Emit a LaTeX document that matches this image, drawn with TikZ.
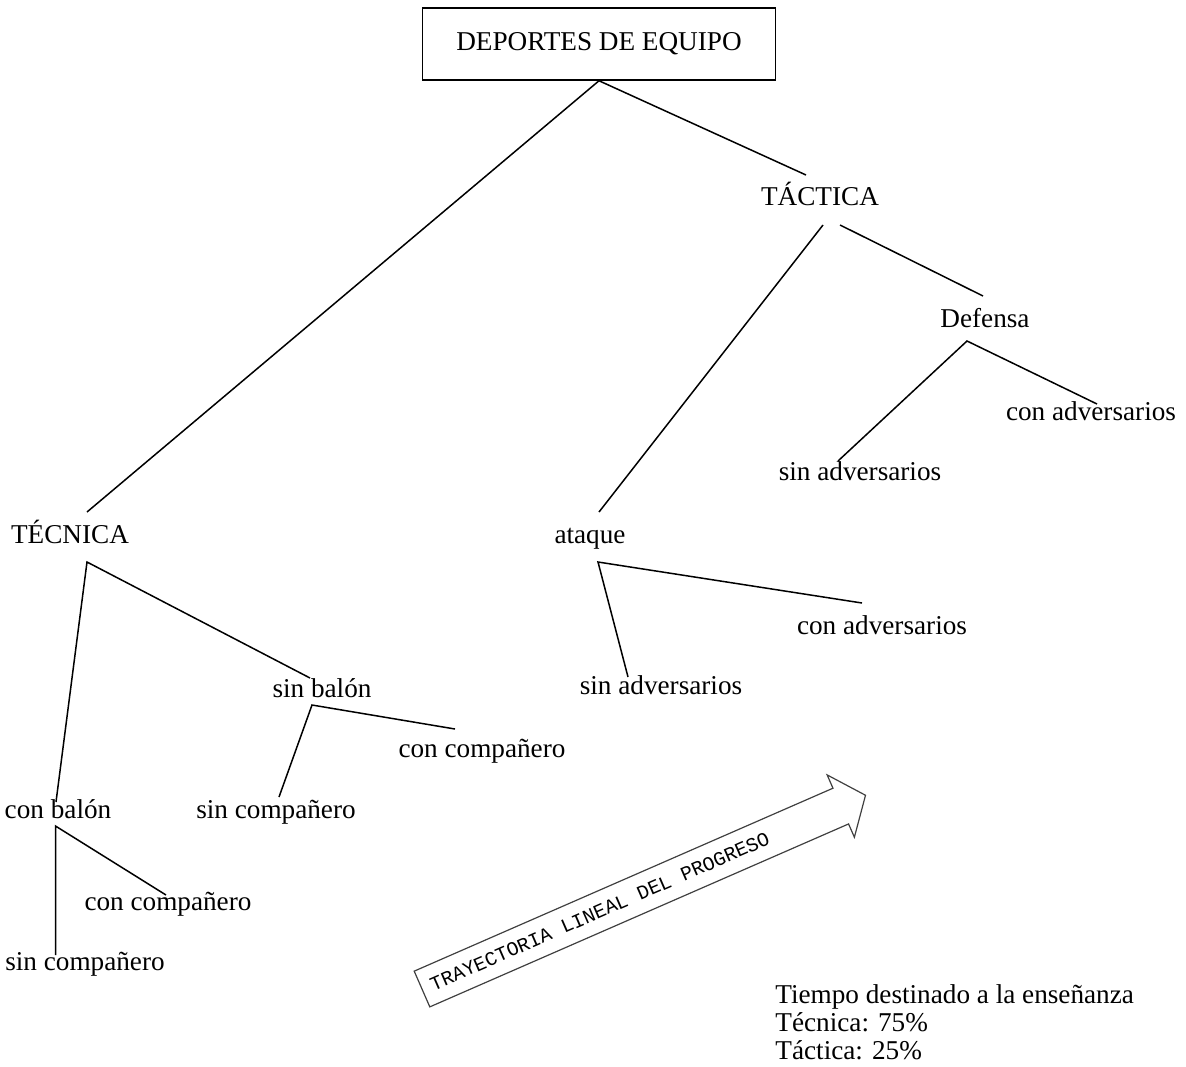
\documentclass[tikz,border=0pt]{standalone}
\usepackage{fontspec}
\setmainfont{Liberation Serif}
\newfontfamily\arrowfont{Liberation Mono}
\usepackage{tikz}
\tikzset{
  lbl/.style={inner sep=0pt,anchor=base,font=\fontsize{13.6}{14}\selectfont},
  rootbox/.style={draw,line width=0.75pt,minimum width=176.5pt,minimum height=36pt,inner sep=0pt,font=\fontsize{13.6}{14}\selectfont},
  br/.style={line width=0.75pt},
  arrowbox/.style={draw=black!75,line width=0.6pt,line join=miter},
  arrowtext/.style={inner sep=0pt,font=\arrowfont\fontsize{9.9}{10}\selectfont}
}

\begin{document}
\begin{tikzpicture}[x=0.5pt,y=-0.5pt]
\useasboundingbox (0,0) rectangle (1186,1066);
\node[rootbox] (root) at (599,44) {DEPORTES DE EQUIPO};
% first level
\node[lbl] (tecnica) at (70,543) {TÉCNICA};
\node[lbl] (tactica) at (820,205) {TÁCTICA};
\draw[br] (root.south) -- ([shift={(17,-31)}]tecnica.base);
\draw[br] (root.south) -- ([shift={(-14,-30)}]tactica.base);
% tactica branch
\node[lbl] (ataque) at (590,543) {ataque};
\node[lbl] (defensa) at (985,327) {Defensa};
\draw[br] ([shift={(3,20)}]tactica.base) -- ([shift={(9,-31)}]ataque.base);
\draw[br] ([shift={(20,20)}]tactica.base) -- ([shift={(-2,-31)}]defensa.base);
\node[lbl] (defsin) at (860,480) {sin adversarios};
\node[lbl] (defcon) at (1091,420) {con adversarios};
\draw[br] ([shift={(-22,-19)}]defsin.base) -- ([shift={(-18,14)}]defensa.base) -- ([shift={(6,-16)}]defcon.base);
\node[lbl] (atasin) at (661,694) {sin adversarios};
\node[lbl] (atacon) at (882,634) {con adversarios};
\draw[br] ([shift={(-33,-17)}]atasin.base) -- ([shift={(8,19)}]ataque.base) -- ([shift={(-20,-31)}]atacon.base);
% tecnica branch
\node[lbl] (conbalon) at (58,818) {con balón};
\node[lbl] (sinbalon) at (322,697) {sin balón};
\draw[br] ([shift={(-2,-16)}]conbalon.base) -- ([shift={(17,19)}]tecnica.base) -- ([shift={(-12,-19)}]sinbalon.base);
\node[lbl] (sbsin) at (276,818) {sin compañero};
\node[lbl] (sbcon) at (482,757) {con compañero};
\draw[br] ([shift={(3,-21)}]sbsin.base) -- ([shift={(-10,8)}]sinbalon.base) -- ([shift={(-27,-28)}]sbcon.base);
\node[lbl] (cbsin) at (85,970) {sin compañero};
\node[lbl] (cbcon) at (168,910) {con compañero};
\draw[br] ([shift={(-29.5,-15)}]cbsin.base) -- ([shift={(-2.5,8)}]conbalon.base) -- ([shift={(-2,-15)}]cbcon.base);
% arrow
\begin{scope}[shift={(422,989)},rotate=23.6]
\draw[arrowbox] (0,-19.5) -- (457,-19.5) -- (457,-34) -- (484,0) -- (457,34) -- (457,19.5) -- (0,19.5) -- cycle;
\node[arrowtext,rotate=23.6] (progreso) at (194,0) {TRAYECTORIA LINEAL DEL PROGRESO};
\end{scope}
% time
\node[lbl,anchor=base west,align=left] (tiempo) at (775,1059) {Tiempo destinado a la enseñanza\\Técnica: 75\%\\Táctica: 25\%};
\end{tikzpicture}
\end{document}
